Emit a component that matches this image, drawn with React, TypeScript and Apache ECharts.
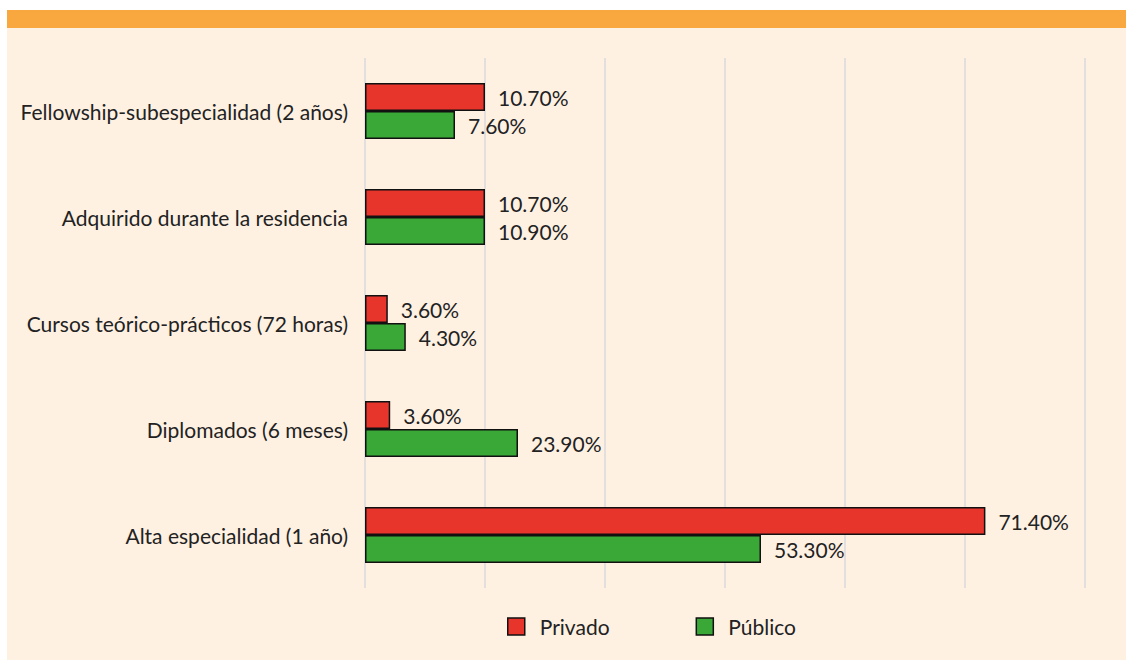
import React, { useEffect, useRef } from "react";
import * as echarts from "echarts";

// Categories, top to bottom
const categories = [
  "Fellowship-subespecialidad (2 años)",
  "Adquirido durante la residencia",
  "Cursos teórico-prácticos (72 horas)",
  "Diplomados (6 meses)",
  "Alta especialidad (1 año)",
];

// Bar lengths as drawn in the reference (axis units; gridline every 10)
const privadoBar = [10.0, 10.0, 1.9, 2.1, 51.7];
const publicoBar = [7.5, 10.0, 3.4, 12.75, 33.0];

// Printed value labels
const privadoLabel = ["10.70%", "10.70%", "3.60%", "3.60%", "71.40%"];
const publicoLabel = ["7.60%", "10.90%", "4.30%", "23.90%", "53.30%"];

const seriesNames = ["Privado", "Público"];

const FONT = "Lato";

export default function App() {
  const ref = useRef<HTMLDivElement>(null);
  useEffect(() => {
    if (!ref.current) return;
    const chart = echarts.init(ref.current, undefined, { renderer: "svg" });
    const mkLabel = (labels: string[]) => ({
      show: true,
      position: "right",
      distance: 13,
      color: "#222",
      fontFamily: FONT,
      fontSize: 21,
      formatter: (p: any) => labels[p.dataIndex],
    });
    chart.setOption({
      animation: false,
      backgroundColor: "#ffffff",
      textStyle: { fontFamily: FONT },
      graphic: [
        {
          type: "rect",
          z: -10,
          silent: true,
          shape: { x: 7, y: 28, width: 1119, height: 632 },
          style: { fill: "#FEF1E2" },
        },
        {
          type: "rect",
          z: -10,
          silent: true,
          shape: { x: 7, y: 10, width: 1119, height: 18 },
          style: { fill: "#F9A840" },
        },
      ],
      grid: { left: 365, right: 41, top: 58, bottom: 72, containLabel: false },
      legend: {
        top: 616,
        left: 507,
        padding: 0,
        icon: "rect",
        itemWidth: 17,
        itemHeight: 17,
        itemGap: 86,
        itemStyle: { borderColor: "#111", borderWidth: 1.5 },
        textStyle: { fontFamily: FONT, fontSize: 21, color: "#222", padding: [0, 0, 0, 10] },
        data: seriesNames,
      },
      xAxis: {
        type: "value",
        min: 0,
        max: 60,
        interval: 10,
        axisLabel: { show: false },
        axisLine: { show: false },
        axisTick: { show: false },
        splitLine: { show: true, lineStyle: { color: "#D8D9DC", width: 1.5 } },
      },
      yAxis: {
        type: "category",
        inverse: true,
        data: categories,
        axisLine: { show: false },
        axisTick: { show: false },
        axisLabel: { color: "#222", fontFamily: FONT, fontSize: 21, margin: 17 },
      },
      series: [
        {
          name: seriesNames[0],
          type: "bar",
          data: privadoBar,
          barWidth: 28,
          barGap: "0%",
          itemStyle: { color: "#E8352C", borderColor: "#111", borderWidth: 1.5 },
          label: mkLabel(privadoLabel),
        },
        {
          name: seriesNames[1],
          type: "bar",
          data: publicoBar,
          barWidth: 28,
          barGap: "0%",
          itemStyle: { color: "#3AA836", borderColor: "#111", borderWidth: 1.5 },
          label: mkLabel(publicoLabel),
        },
      ],
    });
    return () => chart.dispose();
  }, []);
  return (
    <div
      ref={ref}
      style={{ position: "fixed", left: 0, top: 0, width: 1126, height: 660 }}
    />
  );
}
